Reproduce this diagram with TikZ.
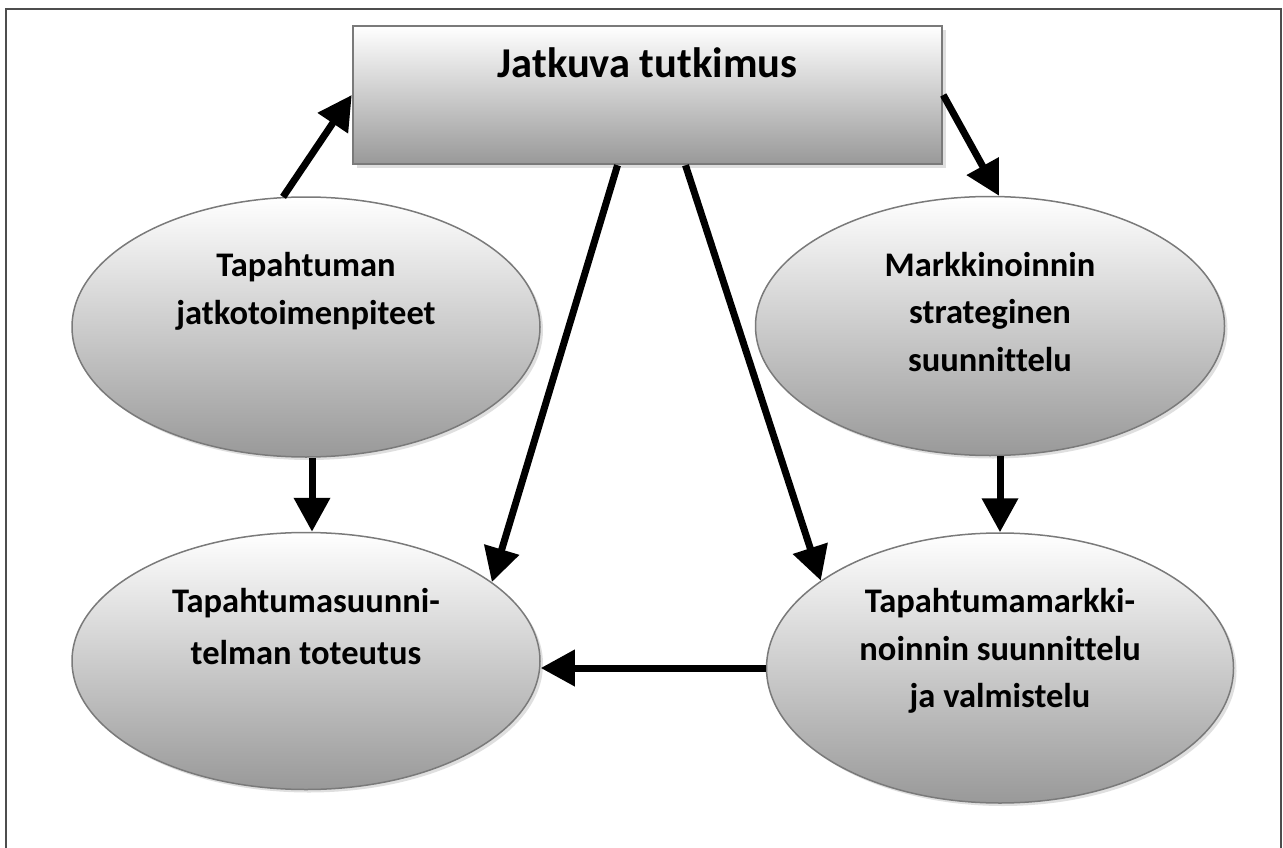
\documentclass[tikz,border=0pt]{standalone}
\usepackage{fontspec}
\setmainfont{Carlito}[Ligatures=CommonOff]
\usetikzlibrary{positioning,shapes.geometric,shadows,arrows.meta}
\definecolor{rimgray}{HTML}{7A7A7A}
\definecolor{framegray}{HTML}{4D4D4D}
\definecolor{shadegray}{HTML}{999999}
\tikzset{
>={Triangle[length=34pt,width=35pt]},
phase/.style={ellipse, draw=rimgray, line width=1.5pt, top color=white, bottom color=shadegray, inner sep=0pt, drop shadow={shadow xshift=3pt, shadow yshift=-3pt, fill=black!25}},
phasetext/.style={align=center, inner sep=0pt, font=\bfseries\fontsize{34.5}{47.5}\selectfont},
topbox/.style={rectangle, draw=rimgray, line width=2.5pt, top color=white, bottom color=shadegray, minimum width=589pt, inner sep=0pt, text height=52pt, text depth=86pt, font=\bfseries\fontsize{42.5}{50}\selectfont, drop shadow={shadow xshift=4pt, shadow yshift=-4pt, fill=black!25}},
line/.style={draw, line width=7pt, ->},
}
\begin{document}
\begin{tikzpicture}[x=1pt, y=-1pt]
\useasboundingbox (0,0) rectangle (1283,848);
\draw[framegray, line width=2pt] (6,848) -- (6,9) -- (1281,9) -- (1281,848);

\node[topbox] (res) at (647.5,95) {Jatkuva tutkimus};

\node[phase, minimum width=468pt, minimum height=260pt] (follow) at (306,327) {};
\node[phasetext, below=56pt of follow.north] (followtxt) {Tapahtuman\\jatkotoimenpiteet};

\node[phase, minimum width=469pt, minimum height=259pt] (strategy) at (990,326) {};
\node[phasetext, below=56pt of strategy.north] (strategytxt) {Markkinoinnin\\strateginen\\suunnittelu};

\node[phase, minimum width=468pt, minimum height=257pt] (execution) at (306,661) {};
\node[phasetext, font=\bfseries\fontsize{34.5}{52}\selectfont, below=56pt of execution.north] (executiontxt) {Tapahtumasuunni-\\telman toteutus};

\node[phase, minimum width=467pt, minimum height=270pt] (planning) at (1000,668) {};
\node[phasetext, below=56pt of planning.north] (planningtxt) {Tapahtumamarkki-\\noinnin suunnittelu\\ja valmistelu};

\draw[line] (follow.100) -- (res.west);
\draw[line] (res.east) -- (strategy.86);
\draw[line] ([xshift=-30pt]res.south) -- (execution.23);
\draw[line] ([xshift=38pt]res.south) -- (planning.154);
\draw[line] ([xshift=6pt]follow.south) -- ([xshift=6pt]execution.north);
\draw[line] (planning.north |- strategy.south) -- (planning.north);
\draw[line] (planning.west) -- (planning.west -| execution.east);

\end{tikzpicture}
\end{document}
